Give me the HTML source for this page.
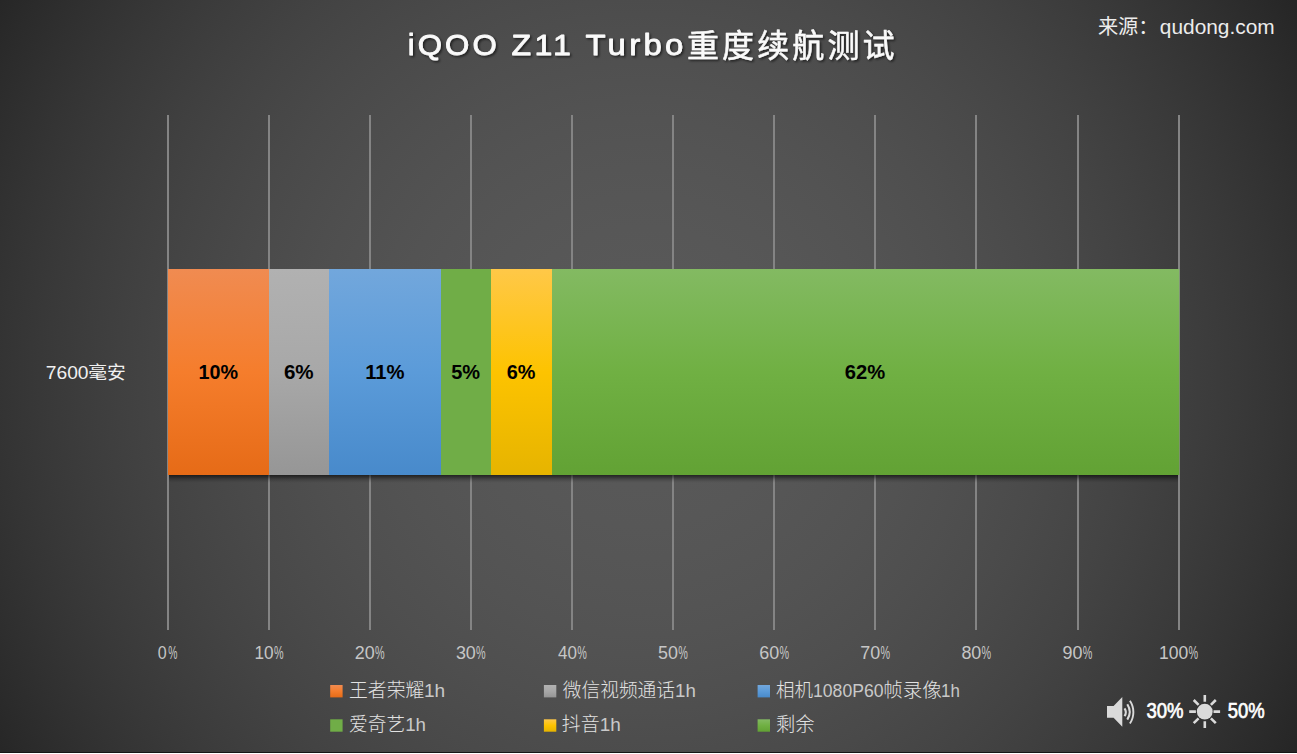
<!DOCTYPE html>
<html lang="zh-CN">
<head>
<meta charset="utf-8">
<title>iQOO Z11 Turbo重度续航测试</title>
<style>
html,body{margin:0;padding:0;background:#262626;}
body{width:1297px;height:754px;overflow:hidden;position:relative;}
#chart{position:absolute;left:0;top:0;width:1297px;height:754px;
background:radial-gradient(circle 750px at 643px 377px, rgb(89.0,89.0,89.0) 0.0%, rgb(88.9,88.9,88.9) 5.0%, rgb(88.5,88.5,88.5) 10.0%, rgb(87.9,87.9,87.9) 15.0%, rgb(87.0,87.0,87.0) 20.0%, rgb(85.8,85.8,85.8) 25.0%, rgb(84.4,84.4,84.4) 30.0%, rgb(82.8,82.8,82.8) 35.0%, rgb(80.8,80.8,80.8) 40.0%, rgb(78.7,78.7,78.7) 45.0%, rgb(76.2,76.2,76.2) 50.0%, rgb(73.6,73.6,73.6) 55.0%, rgb(70.6,70.6,70.6) 60.0%, rgb(67.5,67.5,67.5) 65.0%, rgb(64.0,64.0,64.0) 70.0%, rgb(60.3,60.3,60.3) 75.0%, rgb(56.4,56.4,56.4) 80.0%, rgb(52.2,52.2,52.2) 85.0%, rgb(47.7,47.7,47.7) 90.0%, rgb(43.0,43.0,43.0) 95.0%, rgb(38.0,38.0,38.0) 100.0%);}
svg{position:absolute;left:0;top:0;display:block;}
text{font-family:"Liberation Sans","Noto Sans CJK SC",sans-serif;}
.ax{font-size:18px;fill:#c6c6c6;}
.dl{font-size:20.5px;font-weight:bold;fill:#000;}
.lg{font-size:19px;fill:#e2e2e2;font-weight:300;}
.cat{font-size:18.3px;fill:#f0f0f0;}
.src{font-size:20.5px;fill:#ececec;}
.ttl{font-size:30px;font-weight:normal;fill:#fafafa;stroke:#fafafa;stroke-width:0.8px;stroke-linejoin:round;letter-spacing:3px;}
.ttlc{font-size:32px;font-weight:400;fill:#fafafa;stroke:#fafafa;stroke-width:0.5px;letter-spacing:3.1px;}
.ic{font-size:22px;font-weight:normal;fill:#fff;stroke:#fff;stroke-width:0.7px;}
.lt{fill:#c9c9c9;}
</style>
</head>
<body>
<div id="chart">
<svg width="1297" height="754" viewBox="0 0 1297 754">
<defs>
<linearGradient id="gO" x1="0" y1="0" x2="0" y2="1"><stop offset="0" stop-color="#F08B51"/><stop offset="0.5" stop-color="#F57D2C"/><stop offset="1" stop-color="#E66B17"/></linearGradient>
<linearGradient id="gG" x1="0" y1="0" x2="0" y2="1"><stop offset="0" stop-color="#B1B1B1"/><stop offset="0.5" stop-color="#A8A8A8"/><stop offset="1" stop-color="#969696"/></linearGradient>
<linearGradient id="gB" x1="0" y1="0" x2="0" y2="1"><stop offset="0" stop-color="#72A7DC"/><stop offset="0.5" stop-color="#5B9BD9"/><stop offset="1" stop-color="#488ACB"/></linearGradient>
<linearGradient id="gY" x1="0" y1="0" x2="0" y2="1"><stop offset="0" stop-color="#FFC848"/><stop offset="0.5" stop-color="#FDC300"/><stop offset="1" stop-color="#E6B400"/></linearGradient>
<linearGradient id="gR" x1="0" y1="0" x2="0" y2="1"><stop offset="0" stop-color="#83BA62"/><stop offset="0.5" stop-color="#70B043"/><stop offset="1" stop-color="#62A234"/></linearGradient>
<linearGradient id="gS" x1="0" y1="0" x2="0" y2="1"><stop offset="0" stop-color="#000" stop-opacity="0.6"/><stop offset="0.25" stop-color="#000" stop-opacity="0.42"/><stop offset="0.5" stop-color="#000" stop-opacity="0.22"/><stop offset="0.75" stop-color="#000" stop-opacity="0.08"/><stop offset="1" stop-color="#000" stop-opacity="0"/></linearGradient>
<filter id="ts" x="-5%" y="-20%" width="110%" height="150%"><feDropShadow dx="1.5" dy="1.5" stdDeviation="1.2" flood-color="#000" flood-opacity="0.6"/></filter>
</defs>

<g fill="#848484">
<rect x="167" y="115" width="2" height="515"/>
<rect x="268" y="115" width="2" height="515"/>
<rect x="369" y="115" width="2" height="515"/>
<rect x="470" y="115" width="2" height="515"/>
<rect x="571" y="115" width="2" height="515"/>
<rect x="672" y="115" width="2" height="515"/>
<rect x="773" y="115" width="2" height="515"/>
<rect x="874" y="115" width="2" height="515"/>
<rect x="975" y="115" width="2" height="515"/>
<rect x="1077" y="115" width="2" height="515"/>
<rect x="1178" y="115" width="2" height="515"/>
</g>
<rect x="169" y="475" width="1009" height="8" fill="url(#gS)"/>
<rect x="168" y="269" width="101.0" height="206" fill="url(#gO)"/>
<rect x="269" y="269" width="60.0" height="206" fill="url(#gG)"/>
<rect x="329" y="269" width="112.0" height="206" fill="url(#gB)"/>
<rect x="441" y="269" width="50.0" height="206" fill="#70AD47"/>
<rect x="491" y="269" width="61.0" height="206" fill="url(#gY)"/>
<rect x="552" y="269" width="627.3" height="206" fill="url(#gR)"/>
<text class="dl" x="198.54" y="379.0" textLength="39.49" lengthAdjust="spacingAndGlyphs">10%</text>
<text class="dl" x="283.90" y="379.0" textLength="29.75" lengthAdjust="spacingAndGlyphs">6%</text>
<text class="dl" x="365.21" y="379.0" textLength="39.39" lengthAdjust="spacingAndGlyphs">11%</text>
<text class="dl" x="451.22" y="379.0" textLength="28.90" lengthAdjust="spacingAndGlyphs">5%</text>
<text class="dl" x="506.63" y="379.0" textLength="28.69" lengthAdjust="spacingAndGlyphs">6%</text>
<text class="dl" x="844.82" y="379.0" textLength="40.42" lengthAdjust="spacingAndGlyphs">62%</text>
<text class="ax" y="658.8"><tspan x="157.71" textLength="8.90" lengthAdjust="spacingAndGlyphs">0</tspan><tspan x="168.33" textLength="9.18" lengthAdjust="spacingAndGlyphs">%</tspan></text>
<text class="ax" y="658.8"><tspan x="254.55" textLength="19.08" lengthAdjust="spacingAndGlyphs">10</tspan><tspan x="273.90" textLength="9.61" lengthAdjust="spacingAndGlyphs">%</tspan></text>
<text class="ax" y="658.8"><tspan x="354.81" textLength="19.93" lengthAdjust="spacingAndGlyphs">20</tspan><tspan x="375.00" textLength="9.61" lengthAdjust="spacingAndGlyphs">%</tspan></text>
<text class="ax" y="658.8"><tspan x="455.91" textLength="19.93" lengthAdjust="spacingAndGlyphs">30</tspan><tspan x="476.10" textLength="9.61" lengthAdjust="spacingAndGlyphs">%</tspan></text>
<text class="ax" y="658.8"><tspan x="558.00" textLength="18.93" lengthAdjust="spacingAndGlyphs">40</tspan><tspan x="577.20" textLength="9.61" lengthAdjust="spacingAndGlyphs">%</tspan></text>
<text class="ax" y="658.8"><tspan x="658.11" textLength="19.93" lengthAdjust="spacingAndGlyphs">50</tspan><tspan x="678.30" textLength="9.61" lengthAdjust="spacingAndGlyphs">%</tspan></text>
<text class="ax" y="658.8"><tspan x="759.21" textLength="19.93" lengthAdjust="spacingAndGlyphs">60</tspan><tspan x="779.40" textLength="9.61" lengthAdjust="spacingAndGlyphs">%</tspan></text>
<text class="ax" y="658.8"><tspan x="860.31" textLength="19.93" lengthAdjust="spacingAndGlyphs">70</tspan><tspan x="880.50" textLength="9.61" lengthAdjust="spacingAndGlyphs">%</tspan></text>
<text class="ax" y="658.8"><tspan x="961.41" textLength="19.93" lengthAdjust="spacingAndGlyphs">80</tspan><tspan x="981.60" textLength="9.61" lengthAdjust="spacingAndGlyphs">%</tspan></text>
<text class="ax" y="658.8"><tspan x="1062.51" textLength="19.93" lengthAdjust="spacingAndGlyphs">90</tspan><tspan x="1082.70" textLength="9.61" lengthAdjust="spacingAndGlyphs">%</tspan></text>
<text class="ax" y="658.8"><tspan x="1159.03" textLength="29.22" lengthAdjust="spacingAndGlyphs">100</tspan><tspan x="1188.60" textLength="9.61" lengthAdjust="spacingAndGlyphs">%</tspan></text>
<text class="cat" y="378.9"><tspan x="45.75" textLength="42.76" lengthAdjust="spacingAndGlyphs">7600</tspan><tspan x="88.17" textLength="37.50" lengthAdjust="spacingAndGlyphs">毫安</tspan></text>
<text class="src" y="33.8"><tspan x="1097.91" textLength="60.58" lengthAdjust="spacingAndGlyphs">来源：</tspan><tspan x="1159.88" textLength="114.78" lengthAdjust="spacingAndGlyphs">qudong.com</tspan></text>
<text class="lg" y="696.5"><tspan x="349.01" textLength="75.30" lengthAdjust="spacingAndGlyphs">王者荣耀</tspan><tspan class="lt" x="423.99" textLength="21.25" lengthAdjust="spacingAndGlyphs">1h</tspan></text>
<text class="lg" x="349.01" y="731.0" textLength="77.01" lengthAdjust="spacingAndGlyphs">爱奇艺<tspan class="lt">1h</tspan></text>
<text class="lg" x="562.80" y="696.5" textLength="133.02" lengthAdjust="spacingAndGlyphs">微信视频通话<tspan class="lt">1h</tspan></text>
<text class="lg" x="561.80" y="731.0" textLength="59.04" lengthAdjust="spacingAndGlyphs">抖音<tspan class="lt">1h</tspan></text>
<text class="lg" y="696.5"><tspan x="776.03" textLength="36.99" lengthAdjust="spacingAndGlyphs">相机</tspan><tspan class="lt" x="813.07" textLength="70.40" lengthAdjust="spacingAndGlyphs">1080P60</tspan><tspan x="883.27" textLength="58.57" lengthAdjust="spacingAndGlyphs">帧录像</tspan><tspan class="lt" x="941.11" textLength="18.80" lengthAdjust="spacingAndGlyphs">1h</tspan></text>
<text class="lg" x="775.98" y="731.0" textLength="38.65" lengthAdjust="spacingAndGlyphs">剩余</text>
<text class="ic" x="1146.40" y="717.7" textLength="37.14" lengthAdjust="spacingAndGlyphs">30%</text>
<text class="ic" x="1227.70" y="717.7" textLength="36.94" lengthAdjust="spacingAndGlyphs">50%</text>
<g filter="url(#ts)">
<text class="ttl" y="55.4"><tspan x="407.66" textLength="92.16" lengthAdjust="spacingAndGlyphs">iQOO</tspan> <tspan x="511.60" textLength="62.51" lengthAdjust="spacingAndGlyphs">Z11</tspan> <tspan x="585.40" textLength="101.18" lengthAdjust="spacingAndGlyphs">Turbo</tspan><tspan class="ttlc" x="687" y="57">重度续航测试</tspan></text>
</g>
<rect x="330.2" y="685" width="12.4" height="12.4" fill="url(#gO)"/>
<rect x="543.9" y="685" width="12.4" height="12.4" fill="url(#gG)"/>
<rect x="757.6" y="685" width="12.4" height="12.4" fill="url(#gB)"/>
<rect x="330.2" y="719.3" width="12.4" height="12.4" fill="#70AD47"/>
<rect x="543.9" y="719.3" width="12.4" height="12.4" fill="url(#gY)"/>
<rect x="757.6" y="719.3" width="12.4" height="12.4" fill="url(#gR)"/>
<g fill="#dadada">
<path d="M1107 705.9H1113.6L1122.3 697V726.7L1113.6 717.7H1107Z"/>
<circle cx="1204.75" cy="711.6" r="7.9"/>
</g>
<g fill="none" stroke="#dadada" stroke-linecap="butt">
<path stroke-width="2.1" d="M1124.5 708.3 A6.8 6.8 0 0 1 1124.5 716.1"/>
<path stroke-width="2.1" d="M1127.3 704.2 A14.2 14.2 0 0 1 1127.3 719.6"/>
<path stroke-width="1.9" d="M1129.9 700.8 A20.3 20.3 0 0 1 1129.9 723.5"/>
<path stroke-width="2.6" d="M1204.8 695V701.7M1204.8 721.3V728.1M1189.2 711.6H1195.9M1213.5 711.6H1220.1M1193.7 700L1198.6 704.9M1210.9 704.9L1215.8 700M1193.7 723.2L1198.6 718.3M1210.9 718.3L1215.8 723.2"/>
</g>

<rect x="0" y="752" width="1297" height="1" fill="#161616"/><rect x="0" y="753" width="1297" height="1" fill="#ffffff"/>
</svg>
</div>
</body>
</html>
